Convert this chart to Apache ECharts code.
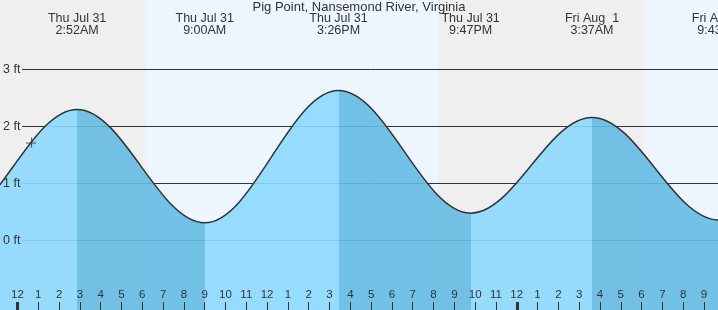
<!DOCTYPE html>
<html>
<head>
<meta charset="utf-8">
<script src="https://cdn.jsdelivr.net/npm/echarts@6/dist/echarts.min.js"></script>
<style>
  html, body { margin: 0; padding: 0; background: #fff; }
  #chart { width: 718px; height: 310px; }
</style>
</head>
<body>
<div id="chart"></div>
<script>
// times are hours counted from Thu Jul 31 00:00
const tideTimes = [-9.67, -3.33, 2.867, 9.0, 15.433, 21.783, 27.617, 33.717, 40.0];
const tideHeights = [2.3, 0.27, 2.3, 0.31, 2.63, 0.48, 2.16, 0.36, 2.5];
const tideLabels = ['', '', 'Thu Jul 31\n2:52AM', 'Thu Jul 31\n9:00AM', 'Thu Jul 31\n3:26PM',
    'Thu Jul 31\n9:47PM', 'Fri Aug  1\n3:37AM', 'Fri Aug  1\n9:43AM', ''];
const sunTimes = [6.13, 20.21, 30.16]; // sunrise, sunset, sunrise
const hourTicks = [-1, 0, 1, 2, 3, 4, 5, 6, 7, 8, 9, 10, 11, 12, 13, 14, 15, 16, 17, 18, 19, 20,
    21, 22, 23, 24, 25, 26, 27, 28, 29, 30, 31, 32, 33];
const hourLabels = ['11', '12', '1', '2', '3', '4', '5', '6', '7', '8', '9', '10', '11', '12',
    '1', '2', '3', '4', '5', '6', '7', '8', '9', '10', '11', '12', '1', '2', '3', '4', '5', '6',
    '7', '8', '9'];
const midnightTicks = [0, 24];
const yTicks = [0, 1, 2, 3];
const nowPoint = [0.65, 1.72];

const xMin = -0.84;
const xMax = 33.77;
const yMin = -1.22;
const yMax = 4.22;

const FONT = '"Liberation Sans", Arial, sans-serif';
const NIGHT = '#efefef';
const DAY = '#edf6ff';
const RISING = '#8cd9fe';
const FALLING = '#64bbe3';

const chart = echarts.init(document.getElementById('chart'));

const tideData = tideTimes.map((t, i) => [t, tideHeights[i]]);

// day / night bands
const edges = [xMin].concat(sunTimes, [xMax]);
const bands = [];
for (let i = 0; i < edges.length - 1; i++) {
    bands.push([
        { xAxis: edges[i], itemStyle: { color: i % 2 === 0 ? NIGHT : DAY, opacity: 1 } },
        { xAxis: edges[i + 1] }
    ]);
}

// rising water light, falling water dark
const pieces = [];
for (let i = 0; i < tideTimes.length - 1; i++) {
    pieces.push({
        gte: tideTimes[i],
        lt: tideTimes[i + 1],
        color: tideHeights[i + 1] > tideHeights[i] ? RISING : FALLING
    });
}

const shownTides = tideTimes.filter(t => t >= xMin && t <= xMax);

chart.setOption({
    animation: false,
    textStyle: { fontFamily: FONT },
    title: {
        text: 'Pig Point, Nansemond River, Virginia',
        left: 'center',
        top: 1,
        padding: 0,
        textStyle: { fontSize: 13, fontWeight: 'normal', color: '#333', fontFamily: FONT }
    },
    grid: [
        { left: 0, right: -2, top: 0, bottom: 0, outerBoundsMode: 'none' },
        { left: 22, right: -2, top: 0, bottom: 0, outerBoundsMode: 'none' },
        { left: 0, right: -2, top: 0, bottom: 0, outerBoundsMode: 'none' }
    ],
    xAxis: [
        {
            gridIndex: 0,
            type: 'value',
            position: 'bottom',
            min: xMin,
            max: xMax,
            z: 10,
            axisLine: { show: false, onZero: false },
            splitLine: { show: false },
            axisTick: {
                inside: true,
                length: 8,
                customValues: hourTicks,
                lineStyle: { color: '#333', width: 1 }
            },
            axisLabel: {
                inside: true,
                margin: 9,
                customValues: hourTicks,
                fontSize: 11.5,
                color: '#333',
                formatter(value) {
                    const i = hourTicks.indexOf(Math.round(value));
                    return i >= 0 ? hourLabels[i] : '';
                }
            }
        },
        {
            gridIndex: 0,
            type: 'value',
            position: 'top',
            min: xMin,
            max: xMax,
            z: 10,
            axisLine: { show: false, onZero: false },
            axisTick: { show: false },
            splitLine: { show: false },
            axisLabel: {
                inside: true,
                margin: 13,
                customValues: shownTides,
                fontSize: 12.5,
                lineHeight: 12,
                color: '#333',
                formatter(value) {
                    let best = 0;
                    tideTimes.forEach((t, i) => {
                        if (Math.abs(t - value) < Math.abs(tideTimes[best] - value)) best = i;
                    });
                    return tideLabels[best];
                }
            }
        },
        { gridIndex: 1, type: 'value', min: xMin, max: xMax, show: false },
        {
            gridIndex: 2,
            type: 'value',
            position: 'bottom',
            min: xMin,
            max: xMax,
            z: 10,
            axisLine: { show: false, onZero: false },
            splitLine: { show: false },
            axisLabel: { show: false },
            axisTick: {
                inside: true,
                length: 8,
                customValues: midnightTicks,
                lineStyle: { color: '#333', width: 3 }
            }
        }
    ],
    yAxis: [
        {
            gridIndex: 0,
            type: 'value',
            min: yMin,
            max: yMax,
            z: 10,
            axisLine: { show: false, onZero: false },
            axisTick: { show: false },
            splitLine: { show: false },
            axisLabel: {
                inside: true,
                margin: 3,
                customValues: yTicks,
                fontSize: 12.5,
                color: '#333',
                formatter: v => v + ' ft'
            }
        },
        {
            gridIndex: 1,
            type: 'value',
            min: yMin,
            max: yMax,
            z: 2,
            axisLine: { show: false, onZero: false },
            axisTick: { show: false, customValues: yTicks },
            axisLabel: { show: false },
            splitLine: { show: true, lineStyle: { color: '#333', width: 1 } }
        },
        { gridIndex: 2, type: 'value', min: yMin, max: yMax, show: false }
    ],
    visualMap: {
        show: false,
        type: 'piecewise',
        seriesIndex: 0,
        dimension: 0,
        pieces: pieces,
        outOfRange: { color: RISING }
    },
    series: [
        {
            name: 'Tide',
            type: 'line',
            xAxisIndex: 0,
            yAxisIndex: 0,
            data: tideData,
            z: 3,
            silent: true,
            showSymbol: false,
            smooth: 0.36,
            smoothMonotone: 'x',
            lineStyle: { color: '#333', width: 1.5 },
            areaStyle: { origin: 'start', opacity: 0.9 },
            markArea: {
                z: 1,
                silent: true,
                data: bands
            }
        },
        {
            name: 'Now',
            type: 'scatter',
            xAxisIndex: 0,
            yAxisIndex: 0,
            z: 5,
            silent: true,
            symbol: 'path://M0,4.5H9V5.5H0Z M4.5,0H5.5V9H4.5Z',
            symbolSize: 10,
            itemStyle: { color: '#333' },
            data: [nowPoint]
        }
    ]
});
</script>
</body>
</html>
